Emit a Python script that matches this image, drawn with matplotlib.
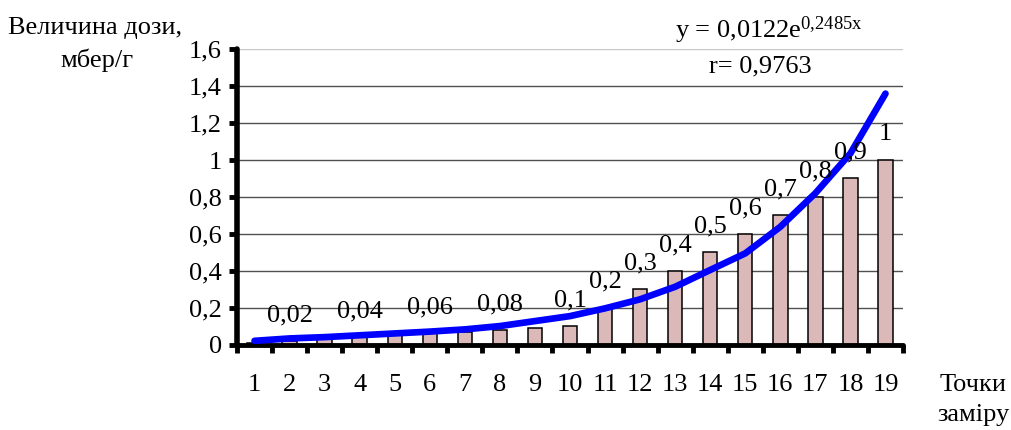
import matplotlib
matplotlib.use("Agg")
import matplotlib.pyplot as plt
import numpy as np

# ---- data ----
points = list(range(1, 20))
dose = [0.01, 0.02, 0.03, 0.04, 0.05, 0.06, 0.07, 0.08, 0.09, 0.1,
        0.2, 0.3, 0.4, 0.5, 0.6, 0.7, 0.8, 0.9, 1.0]
bar_labels = ['', '0,02', '', '0,04', '', '0,06', '', '0,08', '', '0,1',
              '0,2', '0,3', '0,4', '0,5', '0,6', '0,7', '0,8', '0,9', '1']
trend = [0.02, 0.033, 0.04, 0.05, 0.06, 0.07, 0.082, 0.10, 0.127, 0.154,
         0.196, 0.245, 0.313, 0.404, 0.494, 0.638, 0.82, 1.036, 1.36]
y_ticks = [0, 0.2, 0.4, 0.6, 0.8, 1.0, 1.2, 1.4, 1.6]
y_tick_labels = ['0', '0,2', '0,4', '0,6', '0,8', '1', '1,2', '1,4', '1,6']
y_title = ['Величина дози,', 'мбер/г']
x_title = ['Точки', 'заміру']
formula = r'y = 0,0122e$^{\mathrm{0{,}2485x}}$'
r_text = 'r= 0,9763'

plt.rcParams['font.family'] = ['Liberation Serif', 'DejaVu Serif']
plt.rcParams['mathtext.fontset'] = 'custom'
plt.rcParams['mathtext.rm'] = 'Liberation Serif'
plt.rcParams['mathtext.it'] = 'Liberation Serif'

FS = 19

fig = plt.figure(figsize=(10.11, 4.30), dpi=100)
ax = fig.add_axes([0.2344, 0.1988, 0.6588, 0.6865])

ax.set_xlim(0.5, 19.5)
ax.set_ylim(0, 1.6)

# gridlines
for v in y_ticks[1:]:
    col = '#c8c8c8' if v == 1.6 else '#505050'
    ax.axhline(v, color=col, lw=1.0, zorder=0)

bars = ax.bar(points, dose, width=0.41, color='#dcb9b9', edgecolor='black',
              linewidth=1.1, zorder=2)

ax.plot(points, trend, color='#0000ff', lw=4.8, solid_capstyle='round',
        solid_joinstyle='round', zorder=3)

for x, v, lab in zip(points, dose, bar_labels):
    if lab:
        ax.annotate(lab, (x, v), xytext=(0, 18.5), textcoords='offset points',
                    ha='center', va='center', fontsize=FS, zorder=5)

# axes styling
for s in ['top', 'right']:
    ax.spines[s].set_visible(False)
ax.spines['left'].set_linewidth(4)
ax.spines['bottom'].set_linewidth(3.5)
ax.spines['left'].set_capstyle('round')
ax.spines['bottom'].set_capstyle('round')

ax.set_yticks(y_ticks)
ax.set_yticklabels(y_tick_labels, fontsize=FS)
ax.tick_params(axis='y', direction='out', length=6, width=3.5, pad=5)

ax.set_xticks(points)
ax.set_xticklabels([str(p) for p in points], fontsize=FS)
ax.tick_params(axis='x', which='major', length=0, pad=21)
ax.set_xticks(np.arange(0.5, 20, 1.0), minor=True)
ax.tick_params(axis='x', which='minor', direction='out', length=6, width=3.5)

# titles
fig.text(95 / 1011, 1 - 28 / 430, y_title[0], ha='center', va='center', fontsize=FS)
fig.text(97 / 1011, 1 - 60 / 430, y_title[1], ha='center', va='center', fontsize=FS)
fig.text(973 / 1011, 1 - 385 / 430, x_title[0], ha='center', va='center', fontsize=FS)
fig.text(973 / 1011, 1 - 415 / 430, x_title[1], ha='center', va='center', fontsize=FS)

fig.text(769 / 1011, 1 - 30 / 430, formula, ha='center', va='center', fontsize=FS)
fig.text(760 / 1011, 1 - 66 / 430, r_text, ha='center', va='center', fontsize=FS)

fig.savefig('out.png', dpi=100)
